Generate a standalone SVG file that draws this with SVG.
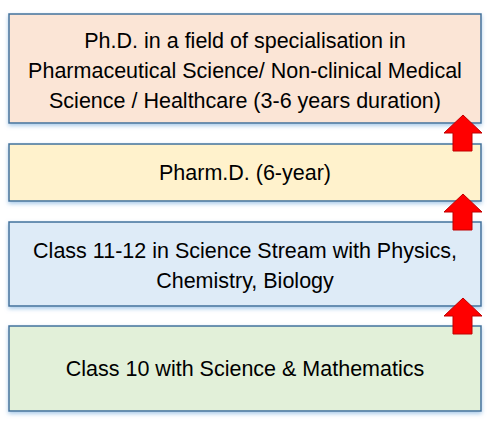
<svg xmlns="http://www.w3.org/2000/svg" width="489" height="422" viewBox="0 0 489 422">
<defs>
<filter id="glow" x="-5%" y="-10%" width="110%" height="125%">
<feGaussianBlur in="SourceAlpha" stdDeviation="2"/>
<feOffset dx="0" dy="1.5" result="b"/>
<feFlood flood-color="#9DC3E6" flood-opacity="0.9"/>
<feComposite in2="b" operator="in"/>
<feMerge><feMergeNode/><feMergeNode in="SourceGraphic"/></feMerge>
</filter>
<path id="arrow" d="M0,0 L19,18 L9,18 L9,36 L-10,36 L-10,18 L-19,18 Z"/>
</defs>
<style>
.box{stroke:#41719C;stroke-width:1.5;filter:url(#glow)}
.t{font-family:"Liberation Sans",Arial,sans-serif;font-size:21.5px;fill:#000;text-anchor:middle}
.arr{fill:#FF0000;stroke:#C00000;stroke-width:1}
</style>
<rect width="489" height="422" fill="#fff"/>
<g id="node-phd">
<rect class="box" x="9" y="14" width="472" height="109" fill="#FBE5D6"/>
<text class="t" x="245" y="48">Ph.D. in a field of specialisation in</text>
<text class="t" x="245" y="78">Pharmaceutical Science/ Non-clinical Medical</text>
<text class="t" x="245" y="108">Science / Healthcare (3-6 years duration)</text>
</g>
<g id="node-pharmd">
<rect class="box" x="9" y="144" width="472" height="57" fill="#FFF2CC"/>
<text class="t" x="245" y="180">Pharm.D. (6-year)</text>
</g>
<g id="node-class1112">
<rect class="box" x="9" y="222" width="472" height="84" fill="#DEEBF7"/>
<text class="t" x="245" y="258">Class 11-12 in Science Stream with Physics,</text>
<text class="t" x="245" y="288">Chemistry, Biology</text>
</g>
<g id="node-class10">
<rect class="box" x="9" y="326" width="472" height="85" fill="#E2F0D9"/>
<text class="t" x="245" y="376">Class 10 with Science &amp; Mathematics</text>
</g>
<g id="connectors">
<use href="#arrow" class="arr" x="463" y="115"/>
<use href="#arrow" class="arr" x="463" y="194"/>
<use href="#arrow" class="arr" x="463" y="298"/>
</g>
</svg>
